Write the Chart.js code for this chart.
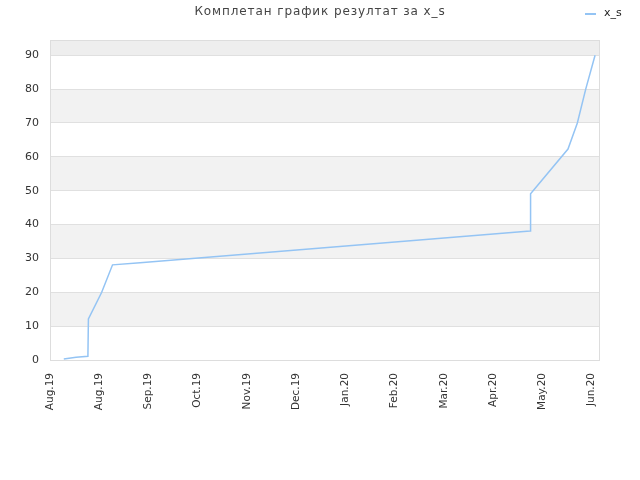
<!DOCTYPE html>
<html>
<head>
<meta charset="utf-8">
<script src="https://cdn.jsdelivr.net/npm/chart.js@4/dist/chart.umd.min.js"></script>
<style>
  body { margin: 0; background: #fff; }
  #wrap { width: 640px; height: 480px; }
</style>
</head>
<body>
<div id="wrap"><canvas id="myChart" width="640" height="480"></canvas></div>
<script>
let myChart;

// tick labels on the bottom axis, one per step
const month_labels = ['Aug.19', 'Aug.19', 'Sep.19', 'Oct.19', 'Nov.19', 'Dec.19',
                      'Jan.20', 'Feb.20', 'Mar.20', 'Apr.20', 'May.20', 'Jun.20'];
// position along the axis (in label steps) and the value
const x_pos = [0.28, 0.53, 0.77, 0.78, 1.05, 1.27, 1.83, 9.75, 9.76, 10.52, 10.71, 10.88, 11.07];
const x_s   = [0.3, 0.8, 1.1, 12.1, 20.0, 28.1, 28.7, 38.1, 49.1, 62.3, 70.0, 80.0, 90.0];

const title_text = 'Комплетан график резултат за x_s';
const series_name = 'x_s';
const line_color = '#94c4f4';

// grey bands behind every second 10-step, plus border and the header texts
const decor = {
  id: 'decor',
  beforeDraw(chart) {
    const ctx = chart.ctx;
    const a = chart.chartArea;
    const y = chart.scales.y;
    ctx.save();
    for (let v = 10; v < y.max; v += 20) {
      let top = y.getPixelForValue(Math.min(v + 10, y.max));
      let bot = y.getPixelForValue(v);
      ctx.fillStyle = (v + 10 > y.max) ? '#eeeeee' : '#f2f2f2';
      ctx.fillRect(a.left, top, a.right - a.left, bot - top);
    }
    ctx.restore();
  },
  afterDraw(chart) {
    const ctx = chart.ctx;
    const a = chart.chartArea;
    ctx.save();
    ctx.strokeStyle = '#dddddd';
    ctx.lineWidth = 1;
    ctx.strokeRect(a.left + 0.5, a.top + 0.5, a.right - a.left - 1, a.bottom - a.top);

    ctx.fillStyle = '#444444';
    ctx.font = '12px "DejaVu Sans"';
    ctx.letterSpacing = '0.9px';
    ctx.textAlign = 'center';
    ctx.textBaseline = 'middle';
    ctx.fillText(title_text, 320, 12);
    ctx.letterSpacing = '0px';

    // legend
    ctx.strokeStyle = line_color;
    ctx.lineWidth = 2;
    ctx.beginPath();
    ctx.moveTo(585, 14);
    ctx.lineTo(596, 14);
    ctx.stroke();
    ctx.fillStyle = '#222222';
    ctx.font = '11px "DejaVu Sans"';
    ctx.textAlign = 'left';
    ctx.fillText(series_name, 604, 13);
    ctx.restore();
  }
};

function draw(ctx) {
  const points = [];
  for (var i = 0; i < x_pos.length; i++) {
    points.push({ x: x_pos[i], y: x_s[i] });
  }

  myChart = new Chart(ctx, {
    type: 'line',
    data: {
      datasets: [
        {
          label: series_name,
          data: points,
          fill: false,
          borderColor: line_color,
          backgroundColor: line_color,
          borderWidth: 1.5,
          pointRadius: 0,
          tension: 0
        }
      ]
    },
    options: {
      responsive: false,
      animation: false,
      layout: { padding: { top: 40, right: 40, left: 0, bottom: 0 } },
      plugins: {
        legend: { display: false },
        title: { display: false },
        tooltip: { enabled: false }
      },
      scales: {
        x: {
          type: 'linear',
          min: 0,
          max: 11.17,
          grid: { display: false, drawTicks: false },
          border: { display: false },
          afterFit: function (s) { s.height = 120; },
          ticks: {
            stepSize: 1,
            autoSkip: false,
            includeBounds: false,
            minRotation: 90,
            maxRotation: 90,
            padding: 13,
            color: '#333333',
            font: { family: 'DejaVu Sans', size: 10.5 },
            callback: function (v) { return month_labels[v]; }
          }
        },
        y: {
          min: 0,
          max: 94.5,
          grid: { color: '#e0e0e0', drawTicks: false },
          border: { display: false },
          afterFit: function (s) { s.width = 50; },
          ticks: {
            stepSize: 10,
            includeBounds: false,
            padding: 11,
            color: '#333333',
            font: { family: 'DejaVu Sans', size: 11 }
          }
        }
      }
    },
    plugins: [decor]
  });
}

window.addEventListener('load', setup);

function setup() {
  var ctx = document.getElementById('myChart').getContext('2d');
  draw(ctx);
}
</script>
</body>
</html>
